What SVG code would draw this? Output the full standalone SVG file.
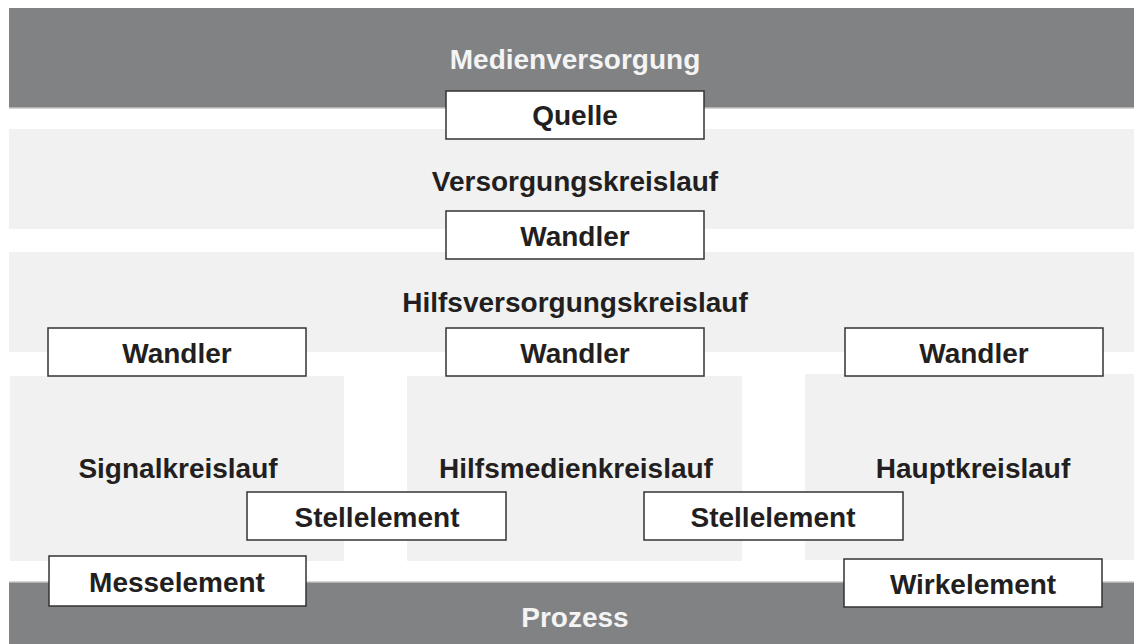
<svg xmlns="http://www.w3.org/2000/svg" width="1134" height="644" viewBox="0 0 1134 644">
<style>
.bar{fill:#818284}
.band{fill:#f1f1f1}
.box{fill:#fff;stroke:#333;stroke-width:1.5}
.t{font-family:"Liberation Sans",Arial,sans-serif;font-weight:bold;font-size:28px;fill:#231f20;text-anchor:middle}
.w{fill:#f4f4f4}
</style>
<rect width="1134" height="644" fill="#fff"/>
<g id="medienversorgung">
<rect class="bar" x="9" y="8" width="1125" height="100"/>
<rect x="9" y="107" width="1125" height="1.5" fill="#b0b0b0"/>
<text class="t w" x="575" y="69">Medienversorgung</text>
</g>
<g id="versorgungskreislauf">
<rect class="band" x="9" y="129" width="1125" height="100"/>
<text class="t" x="575" y="191">Versorgungskreislauf</text>
</g>
<g id="hilfsversorgungskreislauf">
<rect class="band" x="9" y="252" width="1125" height="100"/>
<text class="t" x="575" y="312">Hilfsversorgungskreislauf</text>
</g>
<g id="signalkreislauf">
<rect class="band" x="10" y="376" width="334" height="185"/>
<text class="t" x="178" y="478">Signalkreislauf</text>
</g>
<g id="hilfsmedienkreislauf">
<rect class="band" x="407" y="376" width="335" height="185"/>
<text class="t" x="576" y="478">Hilfsmedienkreislauf</text>
</g>
<g id="hauptkreislauf">
<rect class="band" x="805" y="374" width="329" height="186"/>
<text class="t" x="973" y="478">Hauptkreislauf</text>
</g>
<g id="prozess">
<rect class="bar" x="9" y="582" width="1125" height="62"/>
<rect x="9" y="581.5" width="1125" height="1.5" fill="#b0b0b0"/>
<text class="t w" x="575" y="627">Prozess</text>
</g>
<g id="connectors"></g>
<g id="quelle">
<rect class="box" x="446" y="91" width="258" height="48"/>
<text class="t" x="575" y="125">Quelle</text>
</g>
<g id="wandler-versorgung">
<rect class="box" x="446" y="211" width="258" height="48"/>
<text class="t" x="575" y="246">Wandler</text>
</g>
<g id="wandler-signal">
<rect class="box" x="48" y="328" width="258" height="48"/>
<text class="t" x="177" y="363">Wandler</text>
</g>
<g id="wandler-hilfsmedien">
<rect class="box" x="446" y="328" width="258" height="48"/>
<text class="t" x="575" y="363">Wandler</text>
</g>
<g id="wandler-haupt">
<rect class="box" x="845" y="328" width="258" height="48"/>
<text class="t" x="974" y="363">Wandler</text>
</g>
<g id="stellelement-1">
<rect class="box" x="247" y="492" width="259" height="48"/>
<text class="t" x="377" y="527">Stellelement</text>
</g>
<g id="stellelement-2">
<rect class="box" x="644" y="492" width="259" height="48"/>
<text class="t" x="773" y="527">Stellelement</text>
</g>
<g id="messelement">
<rect class="box" x="49" y="556" width="257" height="50"/>
<text class="t" x="177" y="592">Messelement</text>
</g>
<g id="wirkelement">
<rect class="box" x="844" y="559" width="258" height="48"/>
<text class="t" x="973" y="594">Wirkelement</text>
</g>
</svg>
